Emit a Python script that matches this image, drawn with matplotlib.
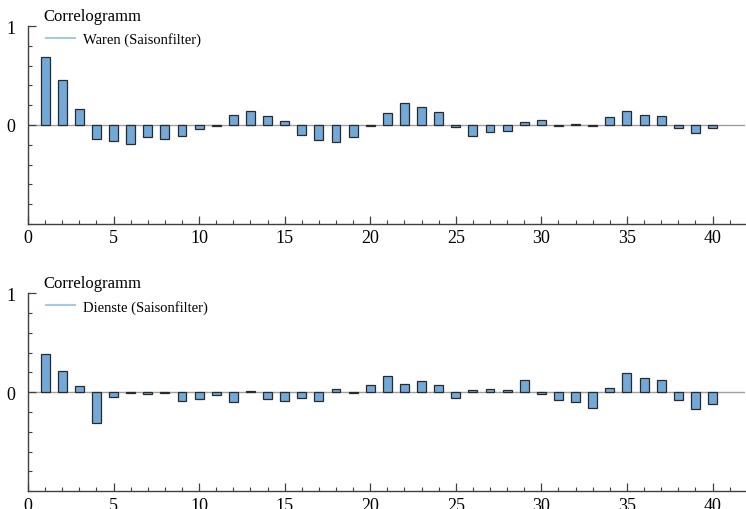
import matplotlib.pyplot as plt
from matplotlib.lines import Line2D
from matplotlib.ticker import MultipleLocator

lags = list(range(1, 41))

waren = [0.69, 0.45, 0.16, -0.145, -0.16, -0.19, -0.125, -0.145, -0.115, -0.04,
         -0.015, 0.10, 0.145, 0.088, 0.045, -0.098, -0.155, -0.175, -0.125, -0.01,
         0.125, 0.22, 0.18, 0.13, -0.02, -0.115, -0.075, -0.06, 0.03, 0.047,
         -0.01, 0.01, -0.01, 0.08, 0.14, 0.10, 0.09, -0.03, -0.08, -0.03]

dienste = [0.39, 0.21, 0.06, -0.31, -0.05, -0.01, -0.015, -0.01, -0.09, -0.073,
           -0.025, -0.095, 0.01, -0.07, -0.09, -0.06, -0.09, 0.03, -0.005, 0.077,
           0.16, 0.08, 0.11, 0.07, -0.055, 0.02, 0.03, 0.027, 0.12, -0.02,
           -0.077, -0.10, -0.16, 0.04, 0.19, 0.145, 0.12, -0.08, -0.165, -0.115]

series = [("Waren (Saisonfilter)", waren), ("Dienste (Saisonfilter)", dienste)]

plt.rcParams['font.family'] = ['Liberation Serif', 'DejaVu Serif']

fig = plt.figure(figsize=(7.46, 5.10), dpi=100)
boxes = [[0.0375, 0.559, 0.9612, 0.388], [0.0375, 0.035, 0.9612, 0.388]]

bar_color = "#72a9d8"
for box, (name, vals) in zip(boxes, series):
    ax = fig.add_axes(box)
    ax.axhline(0, color="#a0a0a0", lw=1.0, zorder=1)
    ax.bar(lags, vals, width=0.52, color=bar_color, edgecolor="#2a2a2a",
           linewidth=0.9, zorder=2)

    ax.set_xlim(0, 41.9)
    ax.set_ylim(-1, 1)
    ax.set_xticks(range(0, 41, 5))
    ax.xaxis.set_minor_locator(MultipleLocator(1))
    ax.set_yticks([0, 1])
    ax.set_yticklabels(["0", "1"])
    ax.yaxis.set_minor_locator(MultipleLocator(0.2))

    for s in ["top", "right"]:
        ax.spines[s].set_visible(False)
    for s in ["left", "bottom"]:
        ax.spines[s].set_color("#404040")
        ax.spines[s].set_linewidth(1.0)

    ax.tick_params(which="major", direction="in", length=6, width=0.9,
                   color="#404040", labelsize=13, pad=4)
    ax.tick_params(which="minor", direction="in", length=3, width=0.8,
                   color="#404040")
    ax.tick_params(axis="y", pad=9)

    ax.text(0.021, 1.05, "Correlogramm", transform=ax.transAxes,
            fontsize=12, ha="left", va="center")
    handle = Line2D([], [], color="#a8c8e8", lw=1.5)
    ax.legend([handle], [name], loc="upper left", bbox_to_anchor=(0.011, 1.019),
              frameon=False, fontsize=10.5, handlelength=2.0, handletextpad=0.5,
              borderaxespad=0.3)

fig.savefig("out.png", dpi=100)
